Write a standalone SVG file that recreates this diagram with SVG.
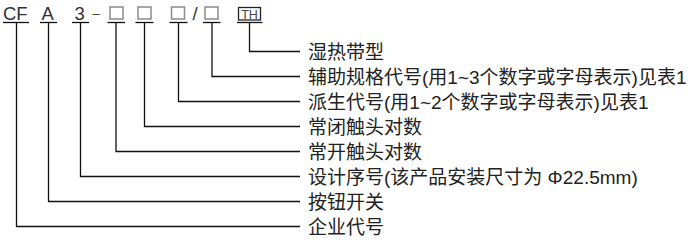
<svg xmlns="http://www.w3.org/2000/svg" width="694" height="241" viewBox="0 0 694 241">
<style>
.code{font-family:"Liberation Sans","Noto Sans CJK SC",sans-serif;font-size:18.5px;fill:#333}
.lbl{font-family:"Liberation Sans","Noto Sans CJK SC",sans-serif;font-size:19px;fill:#222}
.ul{stroke:#111;stroke-width:1.3;fill:none}
.box{fill:none;stroke:#8a8a8a;stroke-width:1.5}
.conn{stroke:#111;stroke-width:1.3;fill:none}
</style>
<rect width="694" height="241" fill="#fff"/>
<g id="code">
  <g id="c-CF"><text class="code" x="3" y="20">CF</text><line class="ul" x1="3" y1="22.5" x2="29" y2="22.5"/></g>
  <g id="c-A"><text class="code" x="41.5" y="20">A</text><line class="ul" x1="40" y1="22.5" x2="57" y2="22.5"/></g>
  <g id="c-3"><text class="code" x="74.5" y="20">3</text><line class="ul" x1="72" y1="22.5" x2="89" y2="22.5"/></g>
  <text class="code" x="92.5" y="18" style="font-size:13px">–</text>
  <g id="c-b1"><rect class="box" x="110" y="7" width="13" height="12"/><line class="ul" x1="107.5" y1="22.5" x2="125" y2="22.5"/></g>
  <g id="c-b2"><rect class="box" x="138" y="7" width="13" height="12"/><line class="ul" x1="135.5" y1="22.5" x2="153.5" y2="22.5"/></g>
  <g id="c-b3"><rect class="box" x="171.5" y="7" width="13" height="12"/><line class="ul" x1="169.5" y1="22.5" x2="187.5" y2="22.5"/></g>
  <text class="code" x="192.5" y="20">/</text>
  <g id="c-b4"><rect class="box" x="205" y="7" width="13" height="12"/><line class="ul" x1="203" y1="22.5" x2="220.5" y2="22.5"/></g>
  <g id="c-TH"><rect fill="none" stroke="#222" stroke-width="1.3" x="238.5" y="7.5" width="22" height="12.5"/><text x="249.5" y="18.5" text-anchor="middle" style="font-family:'Liberation Sans',sans-serif;font-size:12.5px;fill:#444">TH</text><line class="ul" x1="237" y1="22.5" x2="262.5" y2="22.5"/></g>
</g>
<g id="connectors">
  <polyline class="conn" points="249.5,22.5 249.5,51.5 300,51.5"/>
  <polyline class="conn" points="212,22.5 212,76.5 300,76.5"/>
  <polyline class="conn" points="178.5,22.5 178.5,101.5 300,101.5"/>
  <polyline class="conn" points="144.5,22.5 144.5,126.5 300,126.5"/>
  <polyline class="conn" points="116,22.5 116,151.5 300,151.5"/>
  <polyline class="conn" points="80.5,22.5 80.5,176.5 300,176.5"/>
  <polyline class="conn" points="48.5,22.5 48.5,201.5 300,201.5"/>
  <polyline class="conn" points="16.5,22.5 16.5,226.5 300,226.5"/>
</g>
<g id="labels">
  <g id="l1"><text class="lbl" x="308" y="58.5">湿热带型</text></g>
  <g id="l2"><text class="lbl" x="308" y="83.5">辅助规格代号(用1~3个数字或字母表示)见表1</text></g>
  <g id="l3"><text class="lbl" x="308" y="108.5">派生代号(用1~2个数字或字母表示)见表1</text></g>
  <g id="l4"><text class="lbl" x="308" y="133.5">常闭触头对数</text></g>
  <g id="l5"><text class="lbl" x="308" y="158.5">常开触头对数</text></g>
  <g id="l6"><text class="lbl" x="308" y="183.5">设计序号(该产品安装尺寸为 Φ22.5mm)</text></g>
  <g id="l7"><text class="lbl" x="308" y="208.5">按钮开关</text></g>
  <g id="l8"><text class="lbl" x="308" y="233.5">企业代号</text></g>
</g>
</svg>
